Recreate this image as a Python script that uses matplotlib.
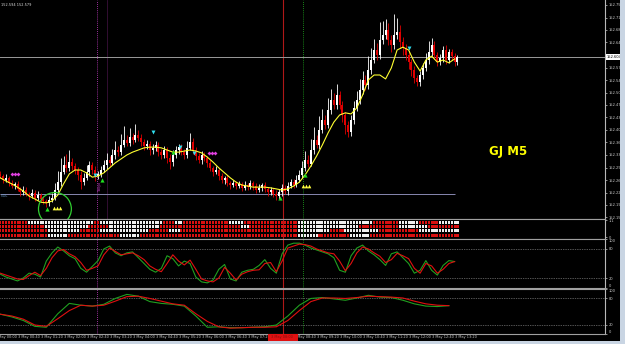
import numpy as np
import matplotlib.pyplot as plt
import matplotlib.transforms as mtransforms
from matplotlib.patches import Rectangle

# GJ M5 chart, prices kept as thousandths of a yen above 152.000
BASE = 152.0

open_first = 276
close_pts = [271, 260, 266, 252, 243, 249, 235, 226,
             232, 221, 215, 224, 210, 218, 207, 201,
             196, 204, 210,
             232, 254, 282, 302, 294, 310,
             299, 288, 274, 254, 266, 282, 302, 288, 271, 277,
             288, 302, 316, 308, 330, 344, 338, 358, 372, 364, 380, 372, 386, 378,
             366, 355, 361, 344, 350, 358, 338, 330, 344, 322, 310, 330, 344, 352, 338,
             330, 350, 366, 344, 327, 316, 330, 322, 308,
             294, 282, 288, 271, 260, 266, 252, 246,
             252, 243, 249, 238, 246, 240, 252, 243, 232, 238, 246, 235, 226, 232, 221, 215, 226,
             238, 229, 243, 254, 246, 260,
             274, 294, 316, 305, 344, 372, 358, 400, 428, 414, 456, 484, 470, 498,
             470, 442, 414, 394, 428,
             462, 484, 512, 540, 526, 568, 596, 624, 610, 652, 666,
             680, 652, 638, 666, 674, 646, 630,
             610, 590, 568, 546, 534, 554,
             574, 596, 618, 638, 610, 590,
             602, 624, 596, 618, 607, 590, 604]
wick_up = [8, 6, 10, 6, 8, 6, 8, 6,
           10, 8, 6, 12, 8, 10, 6, 8,
           6, 10, 14,
           20, 30, 40, 25, 30, 35,
           12, 10, 8, 10, 14, 20, 12, 8, 10, 8,
           10, 14, 20, 12, 18, 25, 12, 30, 40, 15, 25, 12, 30, 15,
           10, 8, 12, 8, 10, 12, 8, 10, 12, 8, 10, 15, 12, 10, 8,
           10, 20, 25, 12, 8, 10, 12, 8, 6,
           8, 6, 10, 6, 8, 6, 8, 6,
           8, 6, 8, 6, 10, 6, 8, 6, 8, 10, 6, 8, 6, 8, 6, 10, 8,
           10, 8, 12, 10, 8, 14,
           15, 20, 25, 15, 30, 35, 15, 40, 30, 15, 35, 30, 20, 30,
           10, 12, 8, 10, 15,
           20, 25, 30, 25, 15, 40, 35, 30, 20, 50, 40,
           30, 20, 15, 60, 40, 20, 15,
           10, 12, 8, 10, 8, 12,
           15, 20, 30, 20, 10, 8,
           12, 10, 15, 10, 8, 10, 6]
wick_dn = [6, 8, 6, 10, 6, 8, 6, 10,
           8, 6, 10, 6, 8, 6, 10, 8,
           12, 8, 6,
           6, 8, 10, 6, 12, 8,
           10, 12, 15, 20, 8, 6, 10, 12, 14, 8,
           8, 6, 10, 8, 6, 10, 12, 8, 6, 10, 8, 10, 6, 8,
           10, 12, 8, 14, 10, 8, 12, 10, 8, 14, 18, 10, 8, 10, 8,
           10, 8, 6, 10, 12, 8, 10, 8, 12,
           8, 10, 6, 12, 8, 10, 8, 12,
           6, 8, 6, 10, 6, 8, 6, 10, 8, 6, 8, 10, 12, 8, 10, 12, 8,
           10, 8, 12, 6, 8, 6,
           6, 8, 10, 8, 6, 10, 8, 12, 8, 10, 8, 10, 12, 10,
           12, 20, 25, 15, 10,
           10, 8, 12, 10, 15, 10, 12, 8, 15, 10, 12,
           10, 15, 20, 12, 10, 15, 20,
           15, 20, 18, 15, 12, 10,
           10, 8, 12, 10, 8, 12,
           8, 12, 10, 8, 10, 12, 8]

# moving average, every 2nd bar
ma_pts = [266, 257, 249, 240, 229, 215, 207, 198, 196, 201,
          218, 249, 277, 288, 288, 280, 268, 271, 280, 294,
          308, 319, 330, 338, 344, 350, 352, 352, 350, 344,
          338, 338, 341, 344, 341, 336, 324, 310, 294, 280,
          266, 254, 246, 243, 240, 240, 240, 238, 235, 232,
          235, 243, 254, 274, 299, 327, 358, 392, 422, 442,
          448, 445, 462, 498, 540, 554, 554, 543, 574, 624,
          632, 624, 590, 565, 596, 607, 590, 596, 588, 599]

# stochastic 1, every 2nd bar
st1_green = [28, 22, 18, 14, 20, 30, 28, 22, 55, 72,
             84, 76, 66, 60, 40, 32, 44, 56, 80, 86,
             72, 66, 72, 74, 62, 50, 38, 32, 40, 66,
             60, 45, 55, 50, 22, 12, 10, 16, 38, 48,
             18, 14, 32, 36, 38, 46, 58, 40, 30, 70,
             88, 92, 92, 88, 82, 78, 74, 70, 62, 36,
             32, 66, 82, 88, 76, 68, 58, 46, 70, 74,
             62, 50, 30, 36, 56, 36, 26, 46, 56, 54]
st1_red = [30, 26, 22, 18, 17, 25, 32, 25, 40, 62,
           76, 79, 70, 64, 52, 36, 40, 45, 68, 82,
           75, 68, 70, 72, 66, 58, 45, 38, 33, 50,
           68, 55, 47, 57, 38, 18, 14, 12, 20, 42,
           30, 16, 28, 33, 36, 37, 50, 52, 33, 55,
           82, 86, 90, 89, 86, 80, 76, 72, 70, 55,
           35, 50, 72, 84, 80, 72, 65, 52, 58, 71,
           66, 60, 40, 30, 50, 45, 30, 38, 50, 54]

# stochastic 2, every 4th bar
st2_green = [44, 38, 30, 17, 15, 45, 68, 64, 62, 66,
             79, 88, 84, 72, 68, 66, 62, 40, 15, 16,
             14, 14, 15, 16, 20, 40, 64, 79, 81, 78,
             75, 80, 86, 82, 81, 75, 67, 62, 61, 63]
st2_red = [44, 40, 33, 20, 17, 34, 52, 64, 62, 64,
           73, 83, 84, 79, 73, 67, 64, 45, 28, 16,
           13, 14, 15, 15, 16, 30, 52, 72, 80, 80,
           79, 81, 84, 83, 82, 80, 73, 67, 64, 63]

# colour strip rows (run lengths in bars, top row first)
strip_runs = [
    [("r", 10), ("w", 23), ("r", 2), ("w", 22), ("r", 4), ("w", 3), ("r", 16), ("w", 5),
     ("r", 19), ("w", 26), ("r", 9), ("w", 7), ("r", 7), ("w", 7)],
    [("r", 16), ("w", 15), ("r", 7), ("w", 18), ("r", 28), ("w", 3), ("r", 17), ("w", 21),
     ("r", 14), ("w", 10), ("r", 11)],
    [("r", 17), ("w", 11), ("r", 7), ("w", 17), ("r", 7), ("w", 4), ("r", 41), ("w", 11),
     ("r", 5), ("w", 12), ("r", 14), ("w", 14)],
    [("r", 17), ("w", 7), ("r", 18), ("w", 7), ("r", 55), ("w", 7), ("r", 11), ("w", 7),
     ("r", 31)],
]

# signal arrows (bar, price pts)
cyan_bars = [32.9, 53.1, 62.5, 67.4, 142.2]
cyan_pts = [274, 394, 352, 336, 630]
green_bars = [16.2, 35.4, 60.1, 97.3, 106.0]
green_pts = [179, 260, 338, 210, 274]
yellow_bars = [19.7, 106.3]
yellow_pts = [182, 243]
magenta_bars = [5.1, 73.6]
magenta_pts = [277, 336]
circle_bar, circle_pt = 19.0, 179

bid_pt = 604
level_pt = 221
vline_magenta = 33.6
vline_purple = 37.1
vline_red = 98.3
vline_green = 105.3

# 152.610 sits under the bid price box, so it is not labelled
price_ticks = [750, 715, 680, 645, 575, 540, 505, 470, 435, 400,
               365, 330, 295, 260, 225, 190, 155]
time_bars = [-2, 6, 14, 22, 30, 38, 46, 54, 62, 70, 78, 86, 94, 102,
             110, 118, 126, 134, 142, 150, 158]
time_labels = ["3 May 00:00", "3 May 00:40", "3 May 01:20", "3 May 02:00",
               "3 May 02:40", "3 May 03:20", "3 May 04:00", "3 May 04:40",
               "3 May 05:20", "3 May 06:00", "3 May 06:40", "3 May 07:20",
               "3 May 08:00", "3 May 08:40", "3 May 09:20", "3 May 10:00",
               "3 May 10:40", "3 May 11:20", "3 May 12:00", "3 May 12:40",
               "3 May 13:20"]


def px(v):
    return BASE + np.asarray(v, dtype=float) / 1000.0


W, H = 625, 344
fig = plt.figure(figsize=(W / 100, H / 100), dpi=100, facecolor="black")
xw = 605 / W
XLIM = (-0.1, 210.3)
TXT = "#c8c8c8"
SEP = "#a0a0a0"


def pane(top, bottom):
    ax = fig.add_axes([0, 1 - bottom / H, xw, (bottom - top) / H])
    ax.set_facecolor("black")
    ax.set_xlim(*XLIM)
    ax.set_xticks([])
    ax.spines["left"].set_visible(False)
    for s in ["top", "bottom"]:
        ax.spines[s].set_color(SEP)
        ax.spines[s].set_linewidth(0.8)
    ax.spines["right"].set_color("#b8b8b8")
    ax.spines["right"].set_linewidth(0.8)
    ax.yaxis.tick_right()
    ax.tick_params(axis="y", colors=TXT, labelsize=2.6, length=1.5, width=0.5, pad=1)
    return ax


ax1 = pane(0, 219)
ax2 = pane(219, 238.5)
ax3 = pane(239.3, 287.7)
ax4 = pane(289, 334)
ax1.spines["top"].set_visible(False)

# ---- main price pane
n = len(close_pts)
bars = np.arange(n)
closes = px(close_pts)
opens = np.concatenate([[px(open_first)], closes[:-1]])
tops = np.maximum(opens, closes)
bots = np.minimum(opens, closes)
highs = tops + np.asarray(wick_up) / 1000.0
lows = bots - np.asarray(wick_dn) / 1000.0
up = closes >= opens
cols = np.where(up, "#ffffff", "#e00000")

ax1.vlines(bars, lows, highs, colors=cols, linewidth=0.6, zorder=3)
ax1.bar(bars, np.maximum(tops - bots, 0.0012), bottom=bots, width=0.7,
        color=cols, linewidth=0, zorder=4)
ax1.plot(np.arange(0, n, 2), px(ma_pts), color="#ffff30", lw=0.8, zorder=5)

ax1.axhline(px(bid_pt), color="#9a9a9a", lw=0.7, zorder=2)
ax1.hlines(px(level_pt), 0, 158, color="#8888b0", lw=0.7, zorder=2)

for ax in (ax1, ax2, ax3, ax4):
    ax.axvline(vline_magenta, color="#d040d0", lw=0.6, ls=(0, (1, 1.5)), zorder=1)
    ax.axvline(vline_red, color="#b01818", lw=0.8, zorder=1)
    ax.axvline(vline_green, color="#20b020", lw=0.6, ls=(0, (1, 1.5)), zorder=1)
ax1.axvline(vline_purple, color="#3a103a", lw=0.6, zorder=1)

ax1.scatter(cyan_bars, px(cyan_pts), marker="v", s=8, color="#30e0f0", lw=0, zorder=6)
ax1.scatter(green_bars, px(green_pts), marker="^", s=9, color="#20e020", lw=0, zorder=6)
for b, p in zip(yellow_bars, yellow_pts):
    ax1.scatter([b - 1.1, b, b + 1.1], px([p, p, p]), marker="^", s=7,
                color="#ffff40", lw=0, zorder=6)
for b, p in zip(magenta_bars, magenta_pts):
    ax1.scatter([b - 1.1, b, b + 1.1], px([p, p, p]), marker="D", s=4,
                color="#e040e0", lw=0, zorder=6)
ax1.scatter([circle_bar], [px(circle_pt)], s=560, facecolors="none",
            edgecolors="#30d030", linewidths=0.9, zorder=6)

ax1.text(0.3, px(level_pt - 6), "GOL", color="#6aa0d0", fontsize=2.4, va="center")
ax1.text(vline_magenta + 1.2, px(level_pt + 20), "Tokyo", color="#d040d0",
         fontsize=2.4, rotation=90, va="center", ha="center")
ax1.text(0.84, 0.306, "GJ M5", transform=ax1.transAxes, color="#ffff00",
         fontsize=8.5, fontweight="bold", ha="center", va="center")
ax1.text(0.001, 0.988, "152.594 152.579", transform=ax1.transAxes, color="#e0e0e0",
         fontsize=2.5, ha="left", va="top")

ax1.set_ylim(px(150.8), px(764))
ax1.set_yticks(px(price_ticks))
ax1.set_yticklabels(["%.3f" % v for v in px(price_ticks)])
ax1.text(1.003, px(bid_pt), "%.3f" % px(bid_pt), transform=mtransforms.blended_transform_factory(
    ax1.transAxes, ax1.transData), fontsize=2.6, color="black", ha="left", va="center",
    bbox=dict(facecolor="white", edgecolor="none", pad=0.6), zorder=10, clip_on=False)

# ---- colour strip
for r, runs in enumerate(strip_runs):
    start = 0
    for c, cnt in runs:
        xs = np.arange(start, start + cnt)
        ax2.bar(xs, 0.72, bottom=r - 0.36, width=0.72,
                color="#f0f0f0" if c == "w" else "#d81010", linewidth=0, zorder=2)
        start += cnt
ax2.set_ylim(3.75, -0.75)
ax2.set_yticks([-0.45, 3.45])
ax2.set_yticklabels(["1.1", "0"])

# ---- stochastic panes
for ax in (ax3, ax4):
    ax.set_ylim(0, 100)
    ax.set_yticks([100, 80, 20, 0])
    ax.set_yticklabels(["100", "80", "20", "0"])
    labs = ax.get_yticklabels()
    labs[0].set_va("top")
    labs[-1].set_va("bottom")
    for lv in (80, 20):
        ax.axhline(lv, color="#a8a8a8", lw=0.5, ls=(0, (1, 1.5)), zorder=1)

b2 = np.arange(0, n, 2)
ax3.plot(b2, st1_green, color="#20a020", lw=0.8, zorder=3)
ax3.plot(b2, st1_red, color="#e01010", lw=0.8, zorder=4)
b4 = np.arange(0, n, 4)
ax4.plot(b4, st2_green, color="#20a020", lw=0.8, zorder=3)
ax4.plot(b4, st2_red, color="#e01010", lw=0.8, zorder=4)

# ---- time axis
tr = mtransforms.blended_transform_factory(ax4.transData, ax4.transAxes)
for b, lab in zip(time_bars, time_labels):
    ax4.text(b, -0.075, lab, transform=tr, fontsize=2.5, color=TXT,
             ha="left", va="center", clip_on=False)
ax4.add_patch(Rectangle((93.1, -0.16), 10.4, 0.16, transform=tr, facecolor="#e01010",
                        edgecolor="none", clip_on=False, zorder=8))
ax4.text(94, -0.075, "3 May 08:00", transform=tr, fontsize=2.5, color="#801010",
         ha="left", va="center", clip_on=False, zorder=9)

# window frame pieces
fig.add_artist(Rectangle((0, 0), 1, 3 / H, transform=fig.transFigure,
                         facecolor="#c9d5e3", edgecolor="none", zorder=20))
fig.add_artist(Rectangle((620 / W, 0), 5 / W, 1, transform=fig.transFigure,
                         facecolor="#c9d5e3", edgecolor="none", zorder=20))

fig.savefig("out.png", dpi=100, facecolor="black")
